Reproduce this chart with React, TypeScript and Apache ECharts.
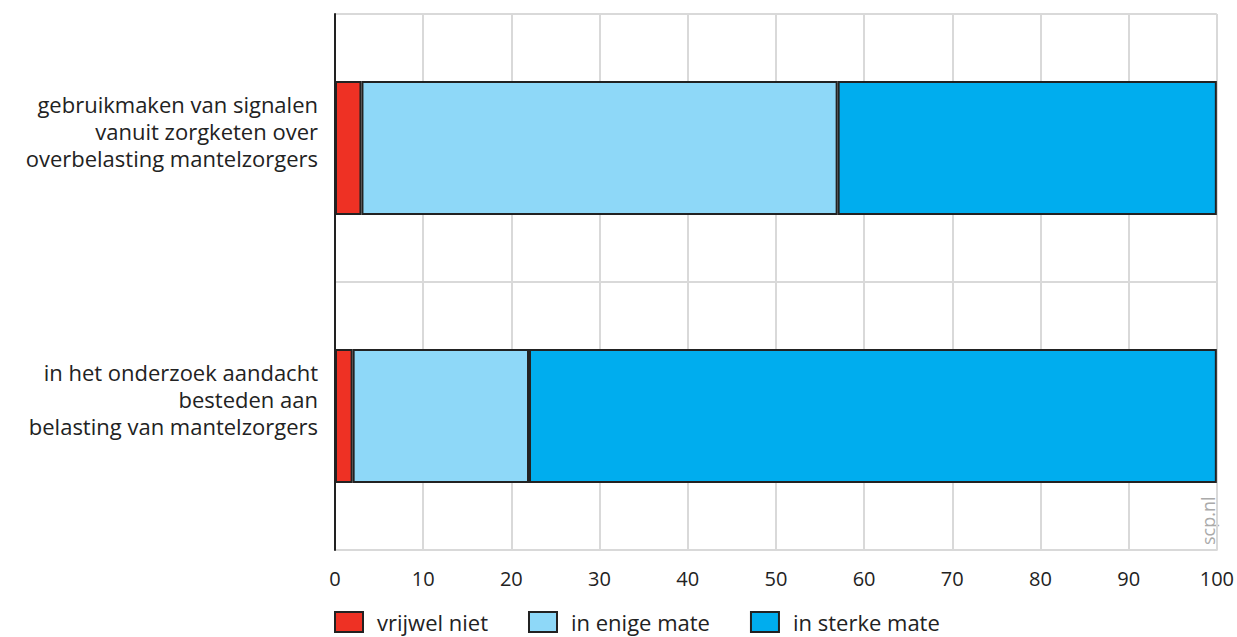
import React, { useEffect, useRef } from "react";
import * as echarts from "echarts";

const categories = [
  "gebruikmaken van signalen\nvanuit zorgketen over\noverbelasting mantelzorgers",
  "in het onderzoek aandacht\nbesteden aan\nbelasting van mantelzorgers",
];
const seriesNames = ["vrijwel niet", "in enige mate", "in sterke mate"];
const vrijwelNiet = [3, 2];
const inEnigeMate = [54, 20];
const inSterkeMate = [43, 78];
const colors = ["#EE3124", "#8ED8F8", "#00ADEE"];

const FONT = "'Open Sans', sans-serif";

export default function App() {
  const ref = useRef<HTMLDivElement>(null);
  useEffect(() => {
    if (!ref.current) return;
    const chart = echarts.init(ref.current, null, { renderer: "svg" });
    const data = [vrijwelNiet, inEnigeMate, inSterkeMate];
    chart.setOption({
      animation: false,
      textStyle: { fontFamily: FONT },
      grid: { left: 335, right: 18, top: 14, bottom: 87, containLabel: false },
      xAxis: {
        type: "value",
        min: 0,
        max: 100,
        interval: 10,
        axisLine: { show: true, lineStyle: { color: "#d9d9d9", width: 2 } },
        axisTick: { show: false },
        splitLine: { show: true, lineStyle: { color: "#d9d9d9", width: 2 } },
        axisLabel: { color: "#222", fontSize: 20, margin: 18, fontFamily: FONT },
      },
      yAxis: {
        type: "category",
        inverse: true,
        data: categories,
        axisLine: { show: true, lineStyle: { color: "#222", width: 2 } },
        axisTick: { show: false },
        splitLine: { show: true, lineStyle: { color: "#d9d9d9", width: 2 } },
        axisLabel: {
          margin: 17,
          align: "right",
          formatter: (v: string) => `{a|${v}}`,
          rich: {
            a: {
              color: "#222",
              fontSize: 22,
              lineHeight: 27,
              fontFamily: FONT,
              align: "right",
              padding: [0, 0, 34, 0],
            },
          },
        },
        z: 5,
      },
      legend: {
        left: 334,
        top: 611,
        padding: 0,
        itemWidth: 28,
        itemHeight: 20,
        itemGap: 40,
        icon: "rect",
        textStyle: {
          color: "#222",
          fontSize: 22,
          lineHeight: 22,
          fontFamily: FONT,
          padding: [0, 0, 0, 9],
        },
        data: seriesNames,
      },
      series: seriesNames.map((name, i) => ({
        name,
        type: "bar",
        stack: "total",
        barWidth: "50%",
        data: data[i],
        itemStyle: { color: colors[i], borderColor: "#222", borderWidth: 2 },
      })),
      graphic: [
        {
          type: "text",
          x: 1199,
          y: 545,
          rotation: Math.PI / 2,
          style: {
            text: "scp.nl",
            fill: "#aaa",
            fontSize: 18,
            fontFamily: FONT,
            textAlign: "left",
            textVerticalAlign: "top",
          },
        },
      ],
    });
    return () => chart.dispose();
  }, []);
  return (
    <div
      ref={ref}
      style={{ position: "fixed", left: 0, top: 0, width: 1237, height: 637, background: "#fff" }}
    />
  );
}
